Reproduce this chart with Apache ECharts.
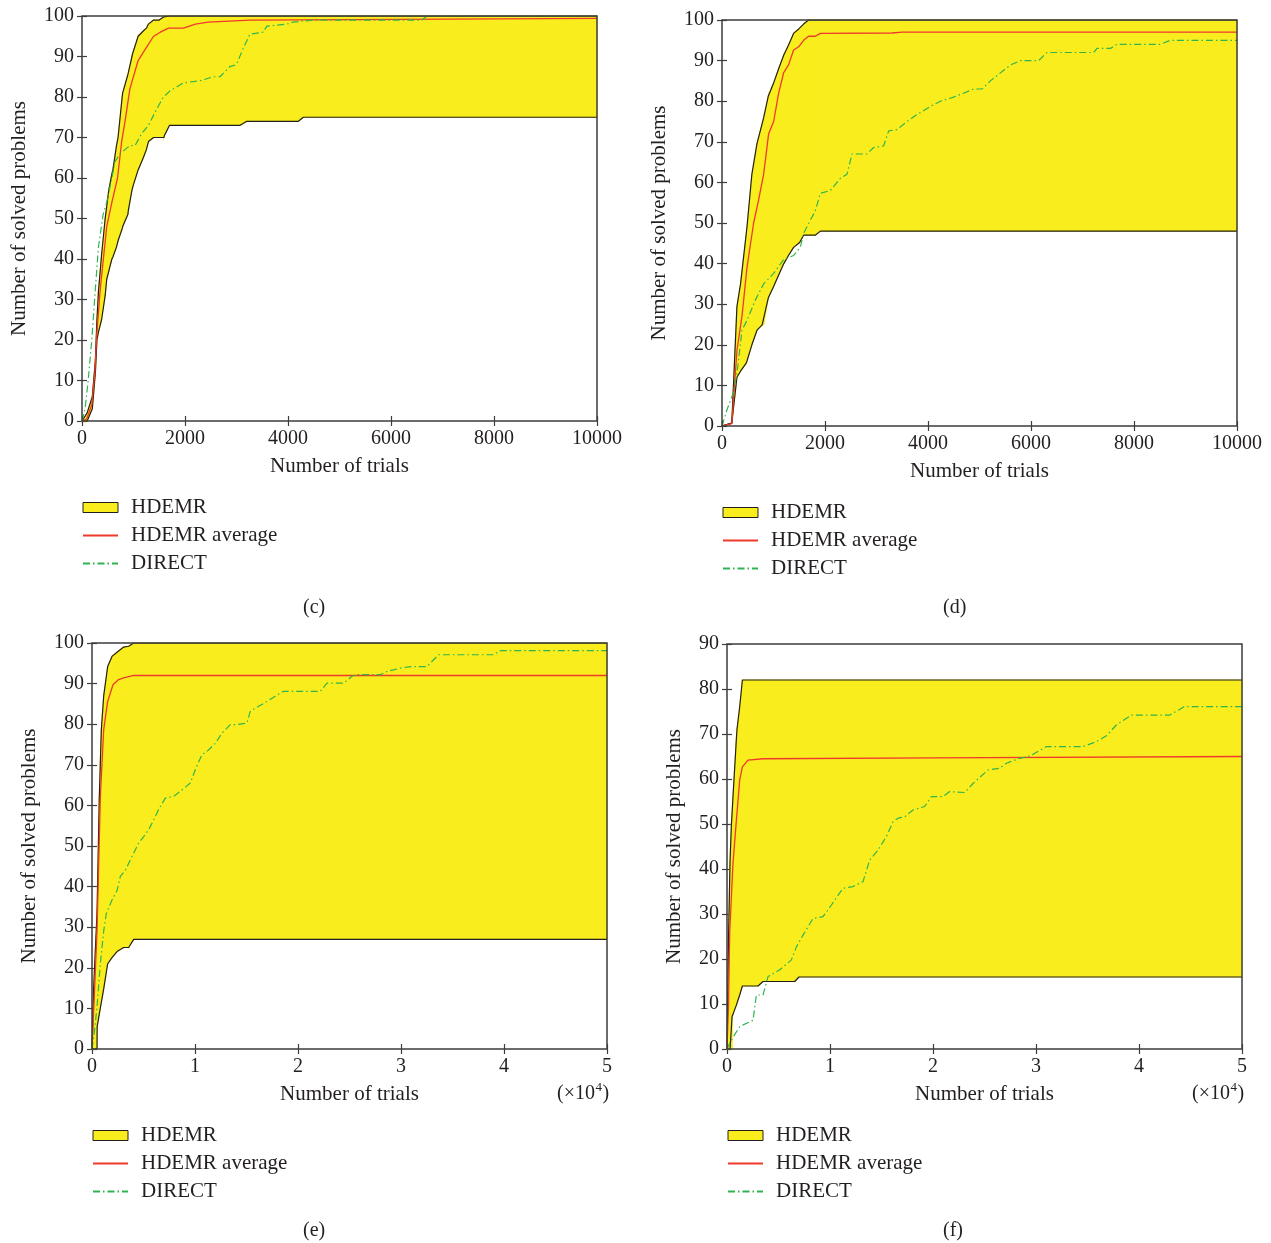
<!DOCTYPE html>
<html>
<head>
<meta charset="utf-8">
<script src="https://cdn.jsdelivr.net/npm/echarts@6/dist/echarts.min.js"></script>
<style>html,body{margin:0;padding:0;background:#fff}#chart{width:1271px;height:1243px}</style>
</head>
<body>
<div id="chart"></div>
<script>
// ---------- Panel (c) ----------
const cBandX  = [0,100,200,260,290,320,380,450,480,520,580,600,670,700,780,790,890,900,970,990,1090,1190,1250,1290,1390,1400,1500,1590,1600,1700,3070,3200,4200,4300,10000];
const cUpper  = [0,2,6,15,25,32,41,50,53,57,61,62,68,70,80,81,85.5,86,90,91,95,96.3,97,98,99,99,99,99.8,100,100,100,100,100,100,100];
const cLower  = [0,0,3,12,20,22,25,31,35,37,40,40.5,43,44.5,47.5,48,51,52,57,58,62,65,67,69,70,70,70,70,70.5,73,73,74,74,75,75];
const cAvgX   = [0,90,190,250,285,350,480,580,690,770,835,930,1090,1190,1390,1520,1680,1970,2200,2450,3260,10000];
const cAvg    = [0,0.5,4,12,21,32,48,54,60,69,74,82,89,91,95,96,97,97,98,98.5,99,99.4];
const cDirX   = [0,60,120,190,250,320,410,480,580,640,740,930,1030,1160,1290,1450,1580,1710,1970,2290,2550,2680,2870,3000,3130,3260,3520,3590,3980,4100,4500,6600,6700,10000];
const cDir    = [0,3,10,20,31,43,51,54,60,64,66,68,68,71,73,77,80,81.5,83.5,84,85,85,87.5,88,92,95.5,96,97.5,98,98.5,99,99,100,100];

// ---------- Panel (d) ----------
const dBandX  = [0,190,290,360,470,485,580,680,780,810,900,1000,1100,1200,1290,1390,1490,1520,1585,1680,1810,1910,10000];
const dUpper  = [0,0.7,29.4,35,47.3,49,62,69.6,74.5,76,81.3,84.4,88,91.4,93.8,96.7,97.8,98,99,100,100,100,100];
const dLower  = [0,0.7,12,13.5,15.5,16,20,23.6,24.9,25,31.6,34.3,37.2,40,42,44,45,45.5,47,47,47,48,48];
const dAvgX   = [0,190,291,388,485,614,711,808,906,1003,1100,1197,1294,1391,1488,1585,1682,1812,1909,3300,3500,10000];
const dAvg    = [0,0.6,18.7,27,39,50,55.7,62,72,75,82,87,89,92.6,93.4,95,96,96,96.7,96.8,97,97];
const dDirX   = [0,97,214,291,388,485,647,808,1003,1197,1391,1520,1585,1715,1812,1909,2104,2298,2427,2524,2816,2945,3139,3237,3398,3592,3786,4045,4240,4498,4886,5049,5210,5599,5793,6148,6311,7217,7282,7541,7671,8512,8706,10000];
const dDir    = [0,4,8,13,23.6,26,31,35,37.6,41,42,44,47.5,50.7,53,57.3,58,61,62,67,67,68.6,69,72.7,73,75,76.7,78.7,80,81,83,83,85,88.9,90,90,92,92,93,93,94,94,95,95];

// ---------- Panel (e) ----------
const eBandX  = [0,160,486,500,712,906,1133,1521,1942,2104,2427,3075,3560,4045,50000];
const eUpper  = [0,15,33.4,35,62.2,78.6,86.9,94.2,96.7,97,97.7,99,99.2,100,100];
const eLower  = [0,0,0,5.5,8.7,11.5,14.8,21,22.5,23,24,25,25,27,27];
const eAvgX   = [0,223,486,809,1133,1521,2039,2588,3075,4045,50000];
const eAvg    = [0,13,29,62,78.6,85.6,89.7,91,91.4,92,92];
const eDirX   = [0,256,486,809,1133,1392,1942,2427,2750,3236,3883,4530,5015,5500,5986,6471,7118,7927,8736,9545,10030,10677,11163,11972,12620,13428,14076,15047,15369,16178,16987,17797,18606,22166,22813,24430,25240,25730,27990,28640,29930,30900,32520,33650,38990,39640,50000];
const eDir    = [0,4.7,10.4,21,29,33.4,36.7,39,42.5,44,47.4,50.7,52.3,54,56.4,59,61.8,62.2,63.8,65.5,68.8,72.5,73.3,75.3,77.8,79.9,79.9,80.3,83.2,84.4,85.6,86.9,88.1,88.1,90.1,90.1,91.8,92.2,92.2,93,93.8,94.2,94.2,97.1,97.1,98.1,98.1];

// ---------- Panel (f) ----------
const fBandX  = [0,150,300,430,485,490,580,913,970,1230,1495,3010,3495,6573,6990,50000];
const fUpper  = [0,25,42,50,52,52.3,56,69,71,76,82,82,82,82,82,82];
const fLower  = [0,0,0,0,0,7.2,7.7,9.8,10.2,12,14,14,15,15,16,16];
const fAvgX   = [0,150,262,583,913,1233,1495,2039,3495,20000,50000];
const fAvg    = [0,10,26,41.3,50.9,59.8,62.7,64.2,64.5,64.7,65];
const fDirX   = [0,427,1233,2527,2854,3495,3981,5117,6253,6738,7379,8350,9321,10136,11263,12233,13204,13854,14660,15475,16117,16603,17254,18058,19195,19845,20971,21622,23078,23885,25342,26476,27126,28420,29390,31010,34565,35863,36834,37805,39262,42981,44437,50000];
const fDir    = [0,2,5,6.4,12,12,16.1,17.6,19.8,22.7,25.3,29,29.4,32,35.7,36.1,37.2,42,44.2,47.2,50.5,51.3,51.6,53.1,53.9,56.1,56.1,57.2,57,59,62,62.4,63.5,64.6,65.1,67.2,67.2,68.3,69.6,72,74.2,74.2,76.1,76.1];

// ---------- Axis settings ----------
const xMaxSmall = 10000, xIntSmall = 2000;
const xMaxLarge = 50000, xIntLarge = 10000;
const yMax100 = 100, yMax90 = 90, yInt = 10;
const legendNames = ['HDEMR', 'HDEMR average', 'DIRECT'];
const captions = ['(c)', '(d)', '(e)', '(f)'];

const FONT = 'Liberation Serif';
const TXT = '#231f20';
const YEL = '#f9ed1d';
const RED = '#ee3a2c';
const GRN = '#2fb44f';
const EDGE = '#231f20';

const panels = [
  {grid:{left:82, top:16, width:515, height:405}, xMax:xMaxSmall, xInt:xIntSmall, yMax:yMax100, big:false, yGap:52,
   bx:cBandX, up:cUpper, lo:cLower, ax:cAvgX, av:cAvg, dx:cDirX, dv:cDir, legend:{left:82, top:497}, cap:[315,608]},
  {grid:{left:722, top:20, width:515, height:406}, xMax:xMaxSmall, xInt:xIntSmall, yMax:yMax100, big:false, yGap:52,
   bx:dBandX, up:dUpper, lo:dLower, ax:dAvgX, av:dAvg, dx:dDirX, dv:dDir, legend:{left:722, top:502}, cap:[955,608]},
  {grid:{left:92, top:643, width:515, height:406}, xMax:xMaxLarge, xInt:xIntLarge, yMax:yMax100, big:true, yGap:52,
   bx:eBandX, up:eUpper, lo:eLower, ax:eAvgX, av:eAvg, dx:eDirX, dv:eDir, legend:{left:92, top:1125}, cap:[315,1231]},
  {grid:{left:727, top:644, width:515, height:405}, xMax:xMaxLarge, xInt:xIntLarge, yMax:yMax90, big:true, yGap:42,
   bx:fBandX, up:fUpper, lo:fLower, ax:fAvgX, av:fAvg, dx:fDirX, dv:fDir, legend:{left:727, top:1125}, cap:[955,1231]}
];

const pairs = (xs, ys) => xs.map((x, i) => [x, ys[i]]);
const tickStyle = {fontFamily: FONT, fontSize: 20, color: TXT};
const nameStyle = {fontFamily: FONT, fontSize: 21, color: TXT};

// text measuring for the (×10^4) multiplier label
const mctx = document.createElement('canvas').getContext('2d');
const measure = (t, size) => { mctx.font = size + 'px "' + FONT + '"'; return mctx.measureText(t).width; };

const grid = [], xAxis = [], yAxis = [], series = [], legend = [], graphic = [];

panels.forEach((p, i) => {
  grid.push(Object.assign({show:true, borderColor:'#3d3d3d', borderWidth:1.5, backgroundColor:'transparent', z:6}, p.grid));
  const tick = {show:true, inside:true, length:5, lineStyle:{color:'#3d3d3d', width:1.2}};
  xAxis.push({type:'value', gridIndex:i, position:'bottom', min:0, max:p.xMax, interval:p.xInt,
    axisLine:{show:false}, axisTick:tick, splitLine:{show:false},
    axisLabel:Object.assign({margin:8, formatter: v => p.big ? String(v/10000) : String(v)}, tickStyle),
    name:'Number of trials', nameLocation:'middle', nameGap:35, nameTextStyle:nameStyle});
  xAxis.push({type:'value', gridIndex:i, position:'top', min:0, max:p.xMax, interval:p.xInt,
    axisLine:{show:false}, axisTick:tick, axisLabel:{show:false}, splitLine:{show:false}});
  yAxis.push({type:'value', gridIndex:i, position:'left', min:0, max:p.yMax, interval:yInt,
    axisLine:{show:false}, axisTick:tick, splitLine:{show:false},
    axisLabel:Object.assign({margin:8}, tickStyle),
    name:'Number of solved problems', nameLocation:'middle', nameGap:p.yGap, nameRotate:90, nameTextStyle:nameStyle});
  yAxis.push({type:'value', gridIndex:i, position:'right', min:0, max:p.yMax, interval:yInt,
    axisLine:{show:false}, axisTick:tick, axisLabel:{show:false}, splitLine:{show:false}});

  const xi = i*2, yi = i*2;
  const bandData = [];
  for (let k = 0; k < p.bx.length - 1; k++) {
    bandData.push([p.bx[k], p.bx[k+1], p.lo[k], p.up[k], p.lo[k+1], p.up[k+1]]);
  }
  series.push({type:'custom', name:'HDEMR', xAxisIndex:xi, yAxisIndex:yi, data:bandData,
    encode:{x:[0,1], y:[2,3,4,5]}, itemStyle:{color:YEL}, z:2, silent:true,
    renderItem:(params, api) => {
      const a = api.coord([api.value(0), api.value(3)]);
      const b = api.coord([api.value(1), api.value(5)]);
      const c = api.coord([api.value(1), api.value(4)]);
      const d = api.coord([api.value(0), api.value(2)]);
      return {type:'polygon', shape:{points:[a,b,c,d]},
        style:{fill:YEL, stroke:YEL, lineWidth:1.2, lineJoin:'miter'}};
    }});
  series.push({type:'line', name:'HDEMR upper', xAxisIndex:xi, yAxisIndex:yi,
    data:pairs(p.bx, p.up), symbol:'none', lineStyle:{color:EDGE, width:1.2}, z:3, silent:true});
  series.push({type:'line', name:'HDEMR lower', xAxisIndex:xi, yAxisIndex:yi,
    data:pairs(p.bx, p.lo), symbol:'none', lineStyle:{color:EDGE, width:1.2}, z:3, silent:true});
  series.push({type:'line', name:'HDEMR average', xAxisIndex:xi, yAxisIndex:yi,
    data:pairs(p.ax, p.av), symbol:'none', lineStyle:{color:RED, width:1.3}, itemStyle:{color:RED}, z:4});
  series.push({type:'line', name:'DIRECT', xAxisIndex:xi, yAxisIndex:yi,
    data:pairs(p.dx, p.dv), symbol:'none', lineStyle:{color:GRN, width:1.2, type:[7,3,1.5,3]}, itemStyle:{color:GRN}, z:5});

  legend.push({left:p.legend.left, top:p.legend.top, orient:'vertical', padding:0, itemWidth:35, itemHeight:10, itemGap:7,
    selectedMode:false, textStyle:Object.assign({padding:[0,0,0,8]}, nameStyle),
    data:[
      {name:legendNames[0], icon:'rect', itemStyle:{color:YEL, borderColor:EDGE, borderWidth:1}},
      {name:legendNames[1], itemStyle:{opacity:0}},
      {name:legendNames[2], itemStyle:{opacity:0}}
    ]});

  graphic.push({type:'text', left:p.cap[0]-12, top:p.cap[1]-10,
    style:{text:captions[i], fontFamily:FONT, fontSize:20, fill:TXT}});
  if (p.big) {
    const x0 = p.grid.left + p.grid.width - 50;
    const y0 = p.grid.top + p.grid.height + 35;
    const w1 = measure('(×10', 20), w2 = measure('4', 13);
    graphic.push({type:'text', x:x0, y:y0, style:{text:'(×10', fontFamily:FONT, fontSize:20, fill:TXT}});
    graphic.push({type:'text', x:x0 + w1 + 0.5, y:y0 - 3, style:{text:'4', fontFamily:FONT, fontSize:13, fill:TXT}});
    graphic.push({type:'text', x:x0 + w1 + w2 + 1, y:y0, style:{text:')', fontFamily:FONT, fontSize:20, fill:TXT}});
  }
});

const chart = echarts.init(document.getElementById('chart'), null, {renderer:'canvas'});
chart.setOption({animation:false, backgroundColor:'#fff', grid, xAxis, yAxis, series, legend, graphic});
</script>
</body>
</html>
